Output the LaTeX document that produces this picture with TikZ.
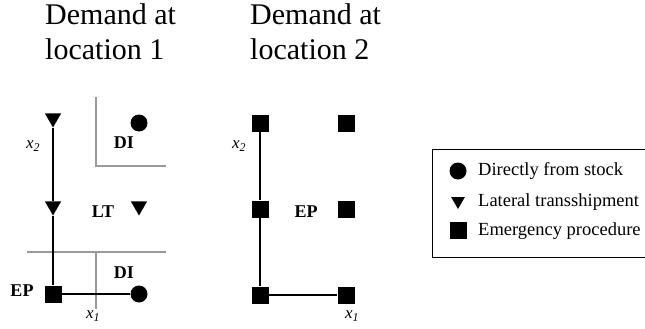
\documentclass[tikz,border=0pt]{standalone}
\usepackage{fontspec}
\setmainfont{Liberation Serif}
\usetikzlibrary{shapes.geometric}

\tikzset{
  dotnode/.style={circle,fill=black,inner sep=0pt,minimum size=17pt},
  trinode/.style={regular polygon,regular polygon sides=3,shape border rotate=180,fill=black,inner sep=0pt,minimum size=19pt},
  sqnode/.style={rectangle,fill=black,inner sep=0pt,minimum size=17pt},
  route/.style={line width=2pt,black},
  border/.style={line width=2pt,black!40},
  tag/.style={font=\fontsize{18}{21}\selectfont\bfseries},
  axis/.style={font=\fontsize{17}{20}\selectfont\itshape},
  title/.style={font=\fontsize{30}{35}\selectfont,align=left,anchor=north west,inner sep=0pt},
  legtext/.style={font=\fontsize{18.5}{22}\selectfont,anchor=west,inner sep=0pt}
}

\begin{document}
\begin{tikzpicture}[x=1pt,y=-1pt]
     \useasboundingbox (0,0) rectangle (645,329);
     % titles
     \node[title] (head1) at (45,3) {Demand at\\location 1};
     \node[title] (head2) at (250,3) {Demand at\\location 2};
     % location 1
     \draw[border] (96,97) -- (96,166) -- (166,166);
     \draw[border] (27,252) -- (166,252);
     \draw[border] (96,252) -- (96,309);
     \node[trinode] (a1) at (53,118) {};
     \node[trinode] (a2) at (53,206) {};
     \node[sqnode]  (a3) at (53,294) {};
     \node[dotnode] (a4) at (139,294) {};
     \node[dotnode] (b1) at (139,123) {};
     \node[trinode] (b2) at (139,206) {};
     \draw[route] (a1) -- (a2) -- (a3) -- (a4);
     \node[tag] (di1) at (124,143) {DI};
     \node[tag] (lt1) at (103,212) {LT};
     \node[tag] (di2) at (124,273) {DI};
     \node[tag] (ep1) at (22,291) {EP};
     \node[axis] (y1) at (33,146) {x\textsubscript{2}};
     \node[axis] (z1) at (93,316) {x\textsubscript{1}};
     % location 2
     \node[sqnode] (c1) at (260,123) {};
     \node[sqnode] (c2) at (260,209) {};
     \node[sqnode] (c3) at (260,295) {};
     \node[sqnode] (c4) at (346,295) {};
     \node[sqnode] (d1) at (346,123) {};
     \node[sqnode] (d2) at (346,209) {};
     \draw[route] (c1) -- (c2) -- (c3) -- (c4);
     \node[tag] (ep2) at (306,212) {EP};
     \node[axis] (y2) at (239,146) {x\textsubscript{2}};
     \node[axis] (z2) at (352,316) {x\textsubscript{1}};
     % legend
     \draw[line width=1pt] (650,149) -- (432,149) -- (432,257) -- (650,257);
     \node[dotnode] (l1) at (458,171) {};
     \node[trinode,minimum size=16pt] (l2) at (458,201) {};
     \node[sqnode]  (l3) at (458,230) {};
     \node[legtext] (t1) at (478,171) {Directly from stock};
     \node[legtext] (t2) at (478,202) {Lateral transshipment};
     \node[legtext] (t3) at (478,231) {Emergency procedure};
\end{tikzpicture}
\end{document}
